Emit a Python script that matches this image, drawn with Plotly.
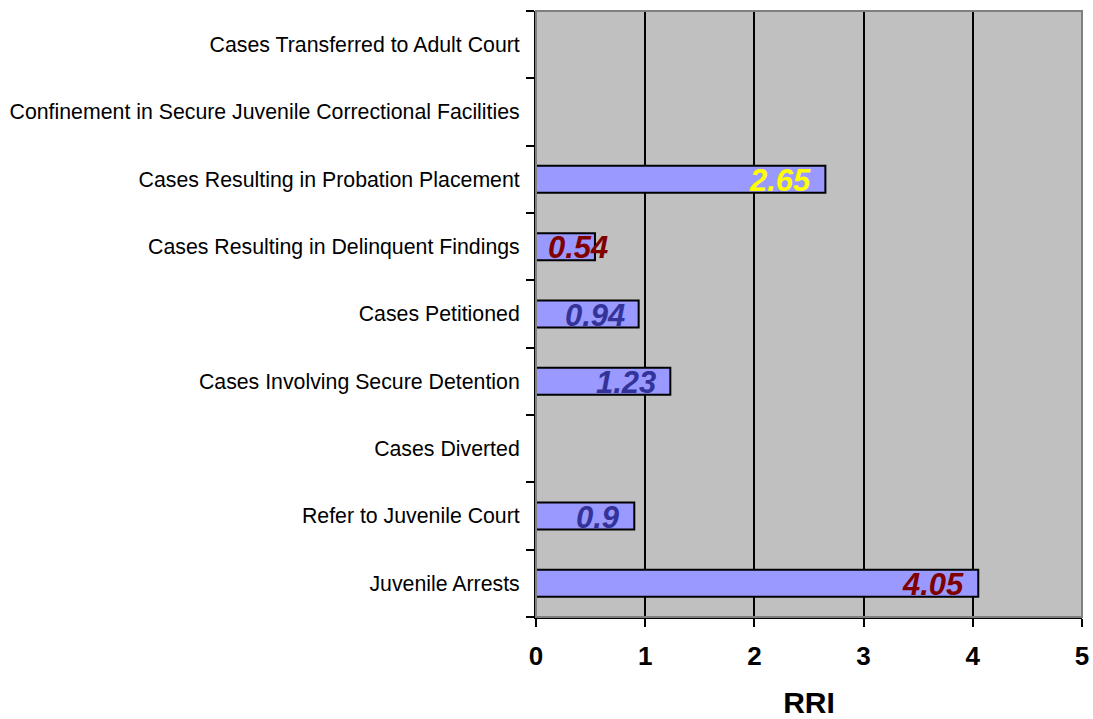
import plotly.graph_objects as go

categories = [
    "Juvenile Arrests",
    "Refer to Juvenile Court",
    "Cases Diverted",
    "Cases Involving Secure Detention",
    "Cases Petitioned",
    "Cases Resulting in Delinquent Findings",
    "Cases Resulting in Probation Placement",
    "Confinement in Secure Juvenile Correctional Facilities",
    "Cases Transferred to Adult Court",
]
rri = [4.05, 0.9, None, 1.23, 0.94, 0.54, 2.65, None, None]
label_colors = ["#800000", "#333399", None, "#333399", "#333399", "#800000", "#FFFF00", None, None]
x_ticks = [0, 1, 2, 3, 4, 5]

fig = go.Figure()
fig.add_trace(go.Bar(
    y=categories, x=rri, orientation="h", width=0.4,
    marker=dict(color="#9999FF", line=dict(color="black", width=2)),
    hoverinfo="skip",
))

for cat, v, c in zip(categories, rri, label_colors):
    if v is None:
        continue
    if v < 0.6:
        ann = dict(x=0, xanchor="left", xshift=10)
    else:
        ann = dict(x=v, xanchor="right", xshift=-12)
    fig.add_annotation(
        y=cat, text=f"{v:g}", showarrow=False, yanchor="middle", yshift=-1,
        font=dict(family="Liberation Sans, Arial", size=31, color=c, weight="bold", style="italic"),
        **ann,
    )

fig.add_shape(type="rect", xref="paper", yref="paper", x0=0, x1=1, y0=0, y1=1,
              line=dict(color="#808080", width=2), layer="above")

fig.update_layout(
    width=1093, height=719,
    margin=dict(l=536, r=11, t=11, b=102),
    paper_bgcolor="white", plot_bgcolor="#C0C0C0",
    showlegend=False,
    font=dict(family="Liberation Sans, Arial", color="black"),
    xaxis=dict(
        range=[0, 5], tickvals=x_ticks, ticks="outside", ticklen=8, tickwidth=2, tickcolor="black",
        showline=True, linecolor="black", linewidth=2,
        showgrid=True, gridcolor="black", gridwidth=2, zeroline=False,
        tickfont=dict(size=26, weight="bold"), ticklabelstandoff=7,
        title=dict(text="<b>RRI</b>", font=dict(size=30), standoff=28),
        automargin=False,
    ),
    yaxis=dict(
        type="category", categoryorder="array", categoryarray=categories,
        range=[-0.5, len(categories) - 0.5],
        tickson="boundaries", ticks="outside", ticklen=8, tickwidth=2, tickcolor="black",
        showline=True, linecolor="black", linewidth=2, showgrid=False,
        tickfont=dict(size=21.3), ticklabelstandoff=10,
        automargin=False,
    ),
)

fig.write_html(
    "out.html",
    config={"displayModeBar": False},
    post_script="document.body.style.margin='0';document.body.style.overflow='hidden';",
)
